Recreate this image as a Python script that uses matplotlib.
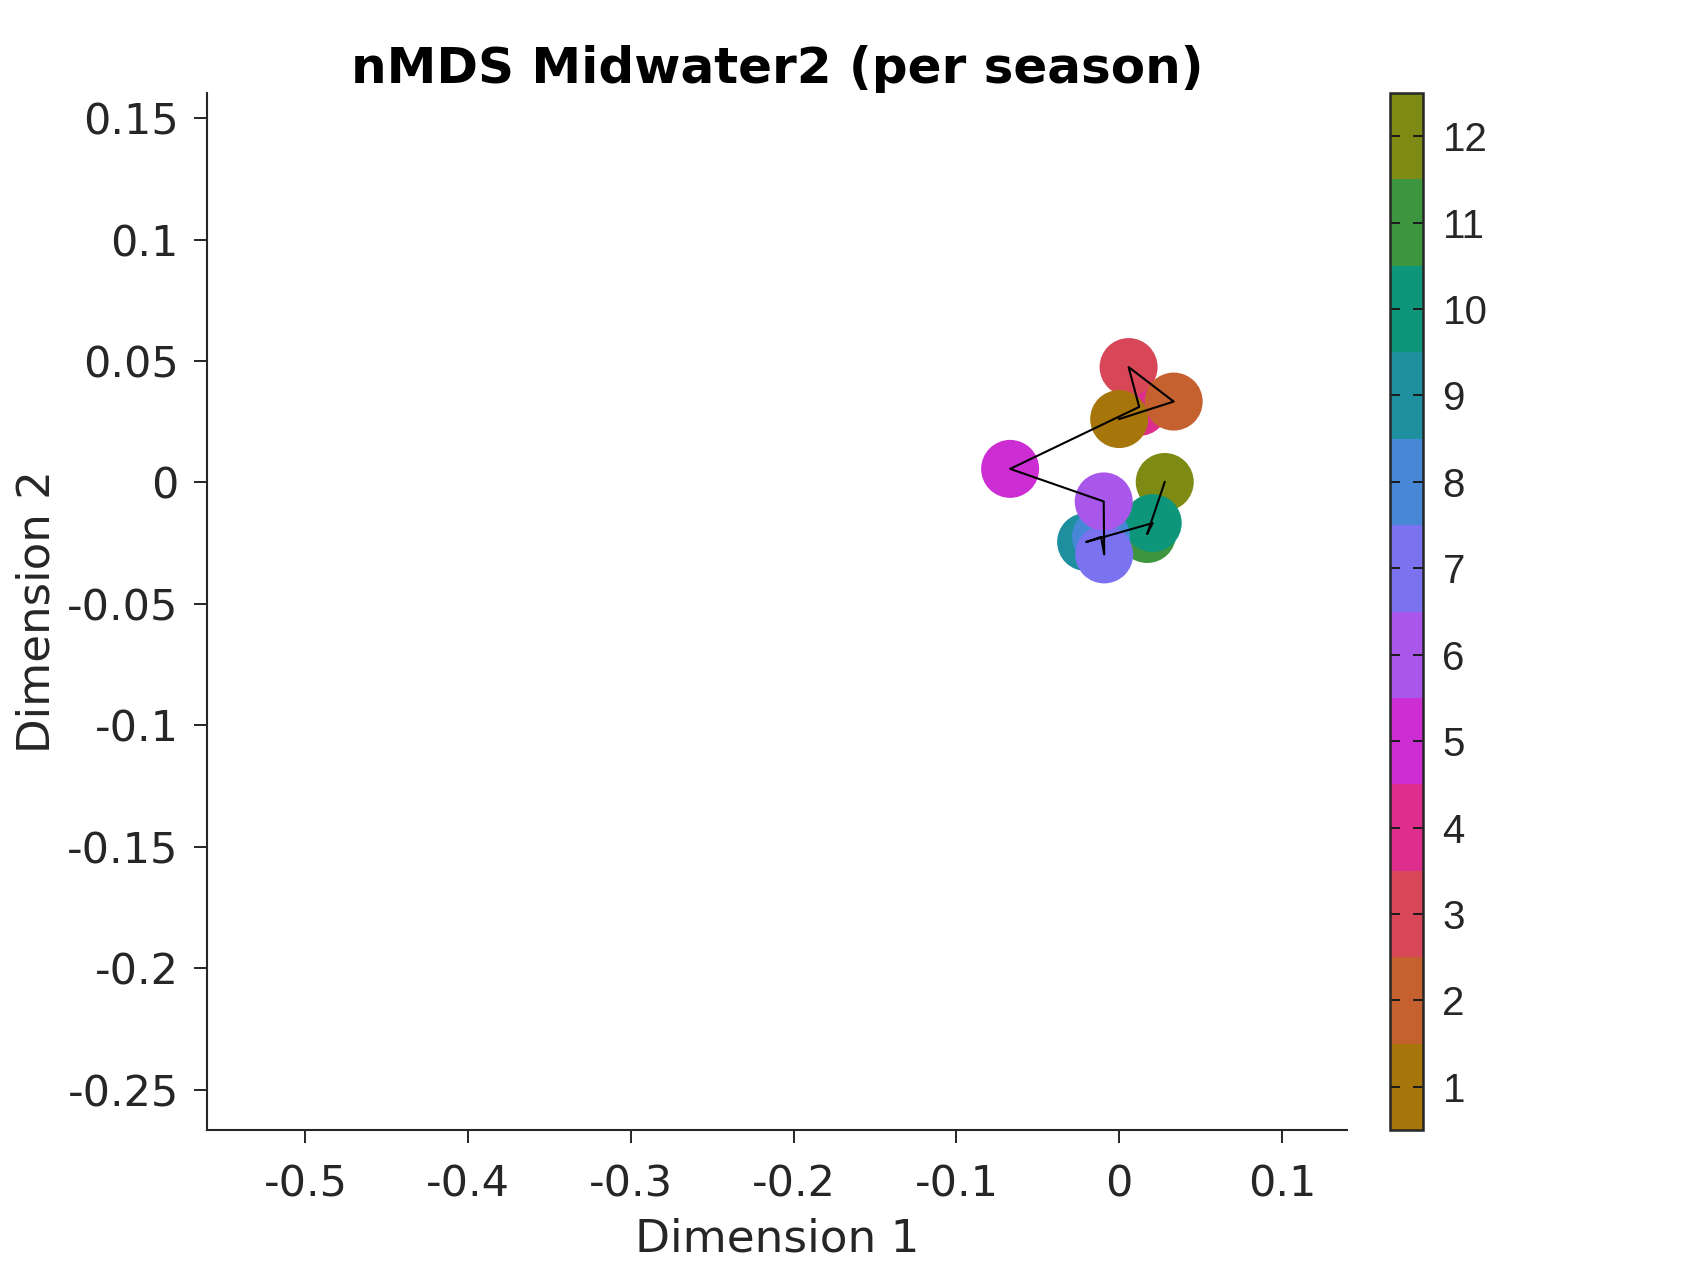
import matplotlib
matplotlib.use("Agg")
import matplotlib.pyplot as plt
from matplotlib.colors import ListedColormap
import numpy as np

# Data
months = [1, 2, 3, 4, 5, 6, 7, 8, 9, 10, 11, 12]
dim1 = [0.0000, 0.0335, 0.0058, 0.0123, -0.0670, -0.0095, -0.0092, -0.0111, -0.0203, 0.0206, 0.0172, 0.0280]
dim2 = [0.0261, 0.0333, 0.0475, 0.0311, 0.0056, -0.0078, -0.0296, -0.0224, -0.0245, -0.0167, -0.0212, 0.0002]
season_colors = ["#A6760A", "#C5612F", "#D74758", "#DD2E8E", "#CD2ED3", "#A956EB",
                 "#7B72EF", "#4788D6", "#1D8F9F", "#0E967A", "#3D963F", "#7D8A13"]
xticks = [-0.5, -0.4, -0.3, -0.2, -0.1, 0, 0.1]
xticklabels = ["-0.5", "-0.4", "-0.3", "-0.2", "-0.1", "0", "0.1"]
yticks = [0.15, 0.1, 0.05, 0, -0.05, -0.1, -0.15, -0.2, -0.25]
yticklabels = ["0.15", "0.1", "0.05", "0", "-0.05", "-0.1", "-0.15", "-0.2", "-0.25"]

TXT = "#262626"
W, H = 1697, 1273
fig = plt.figure(figsize=(W / 100, H / 100), dpi=100)
ax = fig.add_axes([207 / W, 1 - 1130 / H, (1347 - 207) / W, (1130 - 93) / H])
cax = fig.add_axes([1390 / W, 1 - 1130 / H, 33 / W, (1130 - 93) / H])

cmap = ListedColormap(season_colors)
order = np.arange(len(months))[::-1]
sc = ax.scatter(np.array(dim1)[order], np.array(dim2)[order], c=np.array(months)[order],
                cmap=cmap, vmin=0.5, vmax=12.5, s=1744, linewidths=0, zorder=2)
ax.plot(dim1, dim2, color="black", lw=1.5, zorder=3)

ax.set_xlim(-0.5605, 0.140)
ax.set_ylim(-0.2665, 0.1603)
ax.set_xticks(xticks)
ax.set_xticklabels(xticklabels)
ax.set_yticks(yticks)
ax.set_yticklabels(yticklabels)
for s in ["top", "right"]:
    ax.spines[s].set_visible(False)
for s in ["left", "bottom"]:
    ax.spines[s].set_linewidth(1.5)
    ax.spines[s].set_color(TXT)
ax.tick_params(axis="both", direction="out", length=9.4, width=1.4, colors=TXT,
               labelsize=31, labelcolor=TXT)
ax.tick_params(axis="x", pad=15)
ax.tick_params(axis="y", pad=11)
for lab in ax.get_xticklabels() + ax.get_yticklabels():
    lab.set_family("DejaVu Sans")

ax.set_xlabel("Dimension 1", fontsize=32.7, color=TXT, labelpad=8)
ax.set_ylabel("Dimension 2", fontsize=32.5, color=TXT, labelpad=6)
ax.set_title("nMDS Midwater2 (per season)", fontsize=36, fontweight="bold", color="black", pad=4)

cb = fig.colorbar(sc, cax=cax, ticks=months)
cb.ax.set_yticklabels([str(m) for m in months])
cb.outline.set_linewidth(1.8)
cb.outline.set_edgecolor(TXT)
cb.ax.tick_params(direction="in", left=True, right=True, length=7.2, width=1.4,
                  colors="#1a1a1a", labelsize=29, labelcolor=TXT, pad=14)
for lab in cb.ax.get_yticklabels():
    lab.set_family("Liberation Sans")

fig.savefig("out.png", dpi=100, facecolor="white")
